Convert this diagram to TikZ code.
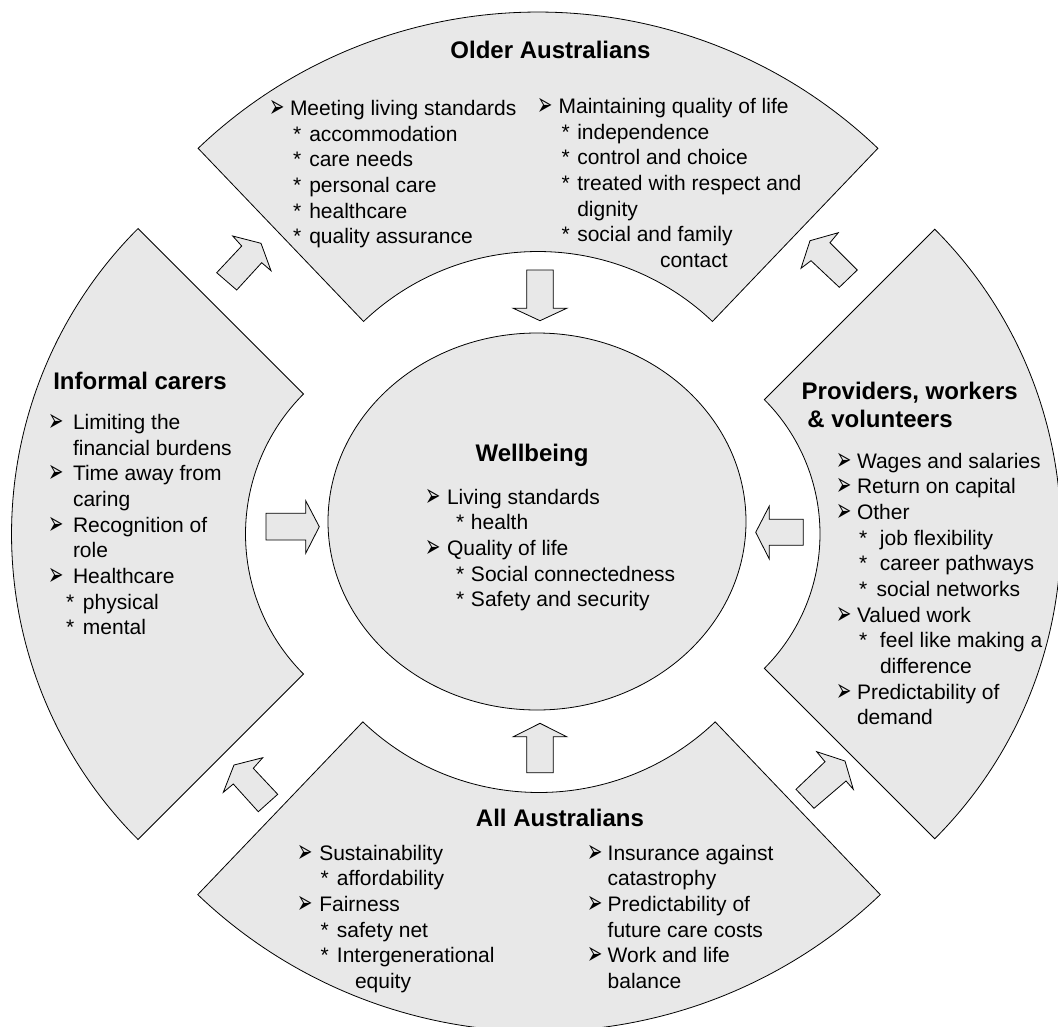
\documentclass[tikz,border=0pt]{standalone}
\usepackage{fontspec}
\usepackage{graphicx}
\setmainfont{Liberation Sans}
\newfontfamily\dejavu{DejaVu Sans}
\usetikzlibrary{calc,shapes.geometric}
\definecolor{segfill}{RGB}{232,232,232}
\newcommand\bulglyph{\raisebox{-2bp}{\scalebox{0.8}[1.4]{\dejavu\fontsize{23bp}{23bp}\selectfont ➢}}}
\newcommand\bu[1]{\makebox[#1][l]{\bulglyph}}
\newcommand\st[2]{\hspace*{#1}\makebox[#2][l]{*}}
\begin{document}
\begin{tikzpicture}[x=1bp,y=-1bp]
\tikzset{
  seg/.style={draw=black, fill=segfill, line width=0.8bp, line join=miter},
  blockarrow/.style={draw=black, fill=segfill, line width=0.8bp, line join=miter},
  txt/.style={inner sep=0pt, outer sep=0pt, anchor=base west, font=\fontsize{21bp}{25.67bp}\selectfont},
  ttl/.style={inner sep=0pt, outer sep=0pt, anchor=base, font=\bfseries\fontsize{24bp}{28.8bp}\selectfont},
}
\fill[white] (0,0) rectangle (1058,1027);
\clip (0,0) rectangle (1058,1027);

% top segment
\draw[seg] plot[domain=226.3:313.7, samples=90] ({538+492*cos(\x)},{504+492*sin(\x)})
  -- plot[domain=313.7:226.3, samples=90] ({538+252.5*cos(\x)},{504+252.5*sin(\x)}) -- cycle;
% bottom segment
\draw[seg] plot[domain=46.3:133.7, samples=90] ({539+494*cos(\x)},{537.5+494*sin(\x)})
  -- plot[domain=133.7:46.3, samples=90] ({539+255*cos(\x)},{537.5+255*sin(\x)}) -- cycle;
% left segment
\draw[seg] plot[domain=135:225, samples=90] ({443.5+432*cos(\x)},{534+432*sin(\x)})
  -- plot[domain=225:135, samples=90] ({443.5+198*cos(\x)},{534+198*sin(\x)}) -- cycle;
% right segment
\draw[seg] plot[domain=-45:45, samples=90] ({630+431*cos(\x)},{534+431*sin(\x)})
  -- plot[domain=45:-45, samples=90] ({630+190*cos(\x)},{534+190*sin(\x)}) -- cycle;

% centre
\node[ellipse, draw=black, fill=segfill, line width=0.8bp, inner sep=0pt,
      minimum width=418bp, minimum height=377bp] (well) at (537,521.5) {};

% arrows towards the centre
\draw[blockarrow] (526.7,270) -- (553.3,270) -- (553.3,308.3) -- (566.7,308.3) -- (540,320.7) -- (513.3,308.3) -- (526.7,308.3) -- cycle;
\draw[blockarrow] (540,723.3) -- (566.7,736.7) -- (553.3,736.7) -- (553.3,772.7) -- (526.7,772.7) -- (526.7,736.7) -- (513.3,736.7) -- cycle;
\draw[blockarrow] (266,513.3) -- (305.7,513.3) -- (305.7,500.7) -- (319.3,526.7) -- (305.7,553.3) -- (305.7,540) -- (266,540) -- cycle;
\draw[blockarrow] (803.3,519.3) -- (769.3,519.3) -- (769.3,506) -- (755.7,532.3) -- (769.3,559) -- (769.3,545.3) -- (803.3,545.3) -- cycle;

% arrows between segments
\draw[blockarrow] (232.7,236) -- (261,243.3) -- (271,270.7) -- (261.7,262.7) -- (236.7,290) -- (216.7,272.7) -- (241.7,246) -- cycle;
\draw[blockarrow] (838.3,232.7) -- (810,240.7) -- (801,268.3) -- (811,260.7) -- (839.3,287.3) -- (857.3,270) -- (830,242.7) -- cycle;
\draw[blockarrow] (262.7,757.7) -- (234,765) -- (223.3,792.3) -- (233.3,784) -- (258.3,811.7) -- (277.7,794.3) -- (253.3,768.3) -- cycle;
\draw[blockarrow] (816.7,751.7) -- (845,761) -- (853.3,789.3) -- (846,781) -- (814,808.3) -- (796,789.3) -- (825,761.7) -- cycle;

% Older Australians
\node[ttl] (olderT) at (550.5,58) {Older Australians};
\node[txt] (olderL) at (269,115.5) {\begin{tabular}[t]{@{}l@{}}
\bu{21bp}Meeting living standards\\
\st{24bp}{16.3bp}accommodation\\
\st{24bp}{16.3bp}care needs\\
\st{24bp}{16.3bp}personal care\\
\st{24bp}{16.3bp}healthcare\\
\st{24bp}{16.3bp}quality assurance
\end{tabular}};
\node[txt] (olderR) at (537,113.5) {\begin{tabular}[t]{@{}l@{}}
\bu{21.6bp}Maintaining quality of life\\
\st{24.7bp}{15.6bp}independence\\
\st{24.7bp}{15.6bp}control and choice\\
\st{24.7bp}{15.6bp}treated with respect and\\
\hspace*{40.3bp}dignity\\
\st{24.7bp}{15.6bp}social and family\\
\hspace*{123bp}contact
\end{tabular}};

% Informal carers
\node[ttl, anchor=base west] (carersT) at (53.3,389) {Informal carers};
\node[txt] (carersL) at (48,429.5) {\begin{tabular}[t]{@{}l@{}}
\bu{25bp}Limiting the\\
\hspace*{25bp}financial burdens\\
\bu{25bp}Time away from\\
\hspace*{25bp}caring\\
\bu{25bp}Recognition of\\
\hspace*{25bp}role\\
\bu{25bp}Healthcare\\
\st{18bp}{17bp}physical\\
\st{18bp}{17bp}mental
\end{tabular}};

% Providers
\node[ttl, anchor=base west] (provT) at (801.7,399) {\begin{tabular}[t]{@{}l@{}}
Providers, workers\\
\hspace*{5.6bp}\& volunteers
\end{tabular}};
\node[txt] (provL) at (836.7,468) {\begin{tabular}[t]{@{}l@{}}
\bu{20.3bp}Wages and salaries\\
\bu{20.3bp}Return on capital\\
\bu{20.3bp}Other\\
\st{22.3bp}{21bp}job flexibility\\
\st{22.3bp}{21bp}career pathways\\
\st{22.3bp}{17.7bp}social networks\\
\bu{20.3bp}Valued work\\
\st{22.3bp}{21bp}feel like making a\\
\hspace*{43.3bp}difference\\
\bu{20.3bp}Predictability of\\
\hspace*{20.3bp}demand
\end{tabular}};

% Wellbeing
\node[ttl] (wellT) at (532,461) {Wellbeing};
\node[txt] (wellL) at (425,504) {\begin{tabular}[t]{@{}l@{}}
\bu{22bp}Living standards\\
\st{31bp}{15bp}health\\
\bu{22bp}Quality of life\\
\st{31bp}{15bp}Social connectedness\\
\st{31bp}{15bp}Safety and security
\end{tabular}};

% All Australians
\node[ttl] (allT) at (560,826) {All Australians};
\node[txt] (allL) at (297,860) {\begin{tabular}[t]{@{}l@{}}
\bu{22.3bp}Sustainability\\
\st{23.6bp}{16.4bp}affordability\\
\bu{22.3bp}Fairness\\
\st{23.6bp}{16.4bp}safety net\\
\st{23.6bp}{16.4bp}Intergenerational\\
\hspace*{58bp}equity
\end{tabular}};
\node[txt] (allR) at (587,860) {\begin{tabular}[t]{@{}l@{}}
\bu{20.7bp}Insurance against\\
\hspace*{20.7bp}catastrophy\\
\bu{20.7bp}Predictability of\\
\hspace*{20.7bp}future care costs\\
\bu{20.7bp}Work and life\\
\hspace*{20.7bp}balance
\end{tabular}};
\end{tikzpicture}
\end{document}
